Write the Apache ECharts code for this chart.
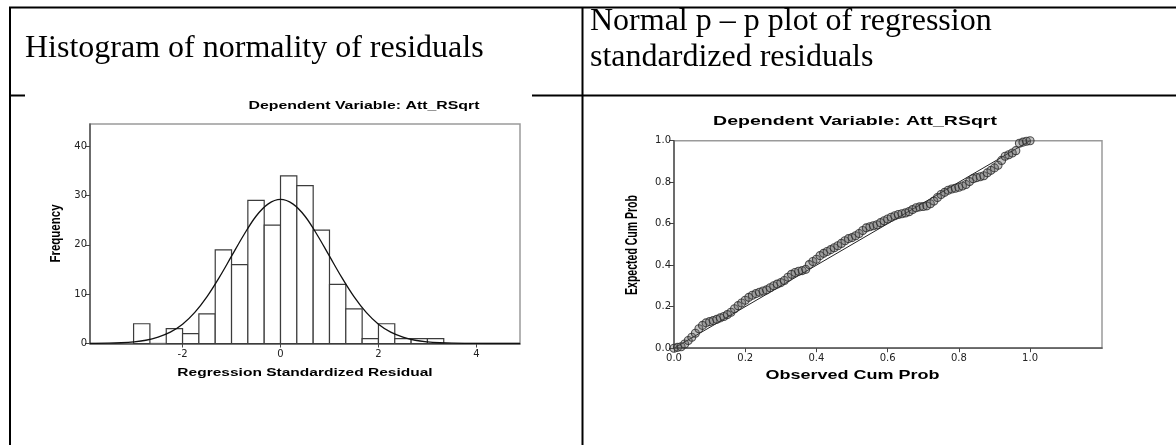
<!DOCTYPE html>
<html>
<head>
<meta charset="utf-8">
<script src="https://cdn.jsdelivr.net/npm/echarts@6/dist/echarts.min.js"></script>
<style>
html,body{margin:0;padding:0;background:#fff;}
#chart{width:1176px;height:445px;}
</style>
</head>
<body>
<div id="chart"></div>
<script>
// ---------- Data ----------
const headerLeft = 'Histogram of normality of residuals';
const headerRightLines = ['Normal p \u2013 p plot of regression', 'standardized residuals'];
const chartTitle = 'Dependent Variable: Att_RSqrt';

// Histogram: bin edges (width 1/3) and frequencies
const binEdges = [-3, -2.667, -2.333, -2, -1.667, -1.333, -1, -0.667, -0.333, 0, 0.333, 0.667, 1, 1.333, 1.667, 2, 2.333, 2.667, 3, 3.333];
const binCounts = [4, 0, 3, 2, 6, 19, 16, 29, 24, 34, 32, 23, 12, 7, 1, 4, 1, 1, 1];
const histXTicks = [-2, 0, 2, 4];
const histYTicks = [0, 10, 20, 30, 40];
// Fitted normal curve
const curveX = [-3.89, -3.5, -3.25, -3, -2.75, -2.5, -2.25, -2, -1.75, -1.5, -1.25, -1, -0.75, -0.5, -0.25, 0, 0.25, 0.5, 0.75, 1, 1.25, 1.5, 1.75, 2, 2.25, 2.5, 2.75, 3, 3.25, 3.5, 4, 4.5, 4.89];
const curveY = [0.02, 0.06, 0.15, 0.33, 0.66, 1.3, 2.3, 3.9, 6.3, 9.5, 13.4, 17.7, 22, 25.8, 28.3, 29.2, 28.3, 25.8, 22, 17.7, 13.4, 9.5, 6.3, 3.9, 2.3, 1.3, 0.66, 0.33, 0.15, 0.06, 0.01, 0, 0];

// P-P plot: observed vs expected cumulative probability
const ppObserved = [0.00,0.01,0.02,0.03,0.04,0.05,0.06,0.07,0.08,0.09,0.10,0.11,0.12,0.13,0.14,0.15,0.16,0.17,0.18,0.19,0.20,0.21,0.22,0.23,0.24,0.25,0.26,0.27,0.28,0.29,0.30,0.31,0.32,0.33,0.34,0.35,0.36,0.37,0.38,0.39,0.40,0.41,0.42,0.43,0.44,0.45,0.46,0.47,0.48,0.49,0.50,0.51,0.52,0.53,0.54,0.55,0.56,0.57,0.58,0.59,0.60,0.61,0.62,0.63,0.64,0.65,0.66,0.67,0.68,0.69,0.70,0.71,0.72,0.73,0.74,0.75,0.76,0.77,0.78,0.79,0.80,0.81,0.82,0.83,0.84,0.85,0.86,0.87,0.88,0.89,0.90,0.91,0.92,0.93,0.94,0.95,0.96,0.97,0.98,0.99,1.00];
const ppExpected = [0.000,0.004,0.007,0.020,0.037,0.053,0.072,0.094,0.110,0.122,0.128,0.133,0.139,0.146,0.153,0.162,0.173,0.190,0.205,0.218,0.231,0.245,0.255,0.263,0.270,0.276,0.281,0.291,0.301,0.309,0.316,0.326,0.342,0.356,0.365,0.371,0.374,0.380,0.403,0.418,0.429,0.446,0.457,0.466,0.475,0.484,0.494,0.505,0.518,0.528,0.533,0.542,0.553,0.567,0.580,0.585,0.590,0.595,0.605,0.614,0.623,0.631,0.638,0.644,0.648,0.652,0.658,0.668,0.677,0.681,0.683,0.686,0.696,0.709,0.726,0.741,0.751,0.761,0.767,0.771,0.776,0.782,0.789,0.803,0.817,0.822,0.826,0.831,0.845,0.857,0.869,0.882,0.905,0.925,0.932,0.941,0.952,0.988,0.993,0.997,1.000];
const ppXTicks = [0, 0.2, 0.4, 0.6, 0.8, 1.0];
const ppYTicks = [0, 0.2, 0.4, 0.6, 0.8, 1.0];
const refLine = [[0, 0], [1, 1]];

// ---------- Build ----------
const histBins = binCounts.map((c, i) => [binEdges[i], binEdges[i + 1], c]).filter(d => d[2] > 0);
const curveData = curveX.map((x, i) => [x, curveY[i]]);
const ppData = ppObserved.map((x, i) => [x, ppExpected[i]]);

const tickFont = { fontFamily: 'DejaVu Sans', fontSize: 10, color: '#222' };
const axisLineStyle = { color: '#555', width: 1.5 };

const chart = echarts.init(document.getElementById('chart'), null, { renderer: 'canvas' });

const line = (x1, y1, x2, y2, w) => ({
  type: 'line', shape: { x1, y1, x2, y2 }, style: { stroke: '#000', lineWidth: w || 2 }, z: 100
});
const txt = (text, x, y, font, opts, align) => Object.assign({
  type: 'text', x, y, z: 100,
  style: { text, font, fill: '#000', align: align || 'center', verticalAlign: 'middle' }
}, opts || {});
const serif = '32px "Liberation Serif"';

chart.setOption({
  animation: false,
  backgroundColor: '#fff',
  grid: [
    { left: 90, width: 430, top: 124, height: 219.5, show: true, borderColor: '#9a9a9a', borderWidth: 1.5, backgroundColor: '#fff' },
    { left: 674, width: 428, top: 140.7, height: 207.5, show: true, borderColor: '#9a9a9a', borderWidth: 1.5, backgroundColor: '#fff' }
  ],
  xAxis: [
    {
      gridIndex: 0, type: 'value', min: -3.89, max: 4.89,
      axisLine: { show: true, onZero: false, lineStyle: axisLineStyle },
      axisTick: { show: true, customValues: histXTicks, length: 4, lineStyle: { color: '#444' } },
      axisLabel: Object.assign({ customValues: histXTicks, margin: 6 }, tickFont),
      splitLine: { show: false }
    },
    {
      gridIndex: 1, type: 'value', min: 0, max: 1.202,
      axisLine: { show: true, onZero: false, lineStyle: axisLineStyle },
      axisTick: { show: true, customValues: ppXTicks, length: 4, lineStyle: { color: '#444' } },
      axisLabel: Object.assign({ customValues: ppXTicks, margin: 5, formatter: v => v.toFixed(1) }, tickFont),
      splitLine: { show: false }
    }
  ],
  yAxis: [
    {
      gridIndex: 0, type: 'value', min: 0, max: 44.5,
      axisLine: { show: true, onZero: false, lineStyle: axisLineStyle },
      axisTick: { show: true, customValues: histYTicks, length: 5, lineStyle: { color: '#444' } },
      axisLabel: Object.assign({ customValues: histYTicks, margin: 3 }, tickFont),
      splitLine: { show: false }
    },
    {
      gridIndex: 1, type: 'value', min: 0, max: 1, interval: 0.2,
      axisLine: { show: true, onZero: false, lineStyle: axisLineStyle },
      axisTick: { show: true, customValues: ppYTicks, length: 5, lineStyle: { color: '#444' } },
      axisLabel: Object.assign({ customValues: ppYTicks, margin: 3, formatter: v => v.toFixed(1) }, tickFont),
      splitLine: { show: false }
    }
  ],
  series: [
    {
      type: 'custom', xAxisIndex: 0, yAxisIndex: 0, data: histBins,
      renderItem: (params, api) => {
        const p0 = api.coord([api.value(0), api.value(2)]);
        const p1 = api.coord([api.value(1), 0]);
        return {
          type: 'rect',
          shape: { x: p0[0], y: p0[1], width: p1[0] - p0[0], height: p1[1] - p0[1] },
          style: { fill: '#fff', stroke: '#3c3c3c', lineWidth: 1.2 }
        };
      },
      z: 2
    },
    {
      type: 'line', xAxisIndex: 0, yAxisIndex: 0, data: curveData, smooth: 0.35,
      showSymbol: false, lineStyle: { color: '#111', width: 1.3 }, z: 3
    },
    {
      type: 'line', xAxisIndex: 1, yAxisIndex: 1, data: refLine,
      showSymbol: false, lineStyle: { color: '#222', width: 1 }, z: 2
    },
    {
      type: 'scatter', xAxisIndex: 1, yAxisIndex: 1, data: ppData,
      symbol: 'circle', symbolSize: 8,
      itemStyle: { color: 'rgba(90,90,90,0.45)', borderColor: '#2a2a2a', borderWidth: 1.1 }, z: 3
    }
  ],
  graphic: [
    // table rules
    line(9, 7.5, 1176, 7.5),
    line(10, 7, 10, 445),
    line(582.5, 7, 582.5, 445),
    line(9, 95.5, 25, 95.5),
    line(532, 95.5, 1176, 95.5),
    // header texts
    txt(headerLeft, 25, 49, serif, null, 'left'),
    txt(headerRightLines[0], 590, 21.5, serif, null, 'left'),
    txt(headerRightLines[1], 590, 58, serif, null, 'left'),
    // histogram titles
    txt(chartTitle, 364, 106, 'bold 11.5px "Liberation Sans"', { scaleX: 1.38 }),
    txt('Regression Standardized Residual', 305, 372.5, 'bold 11.5px "Liberation Sans"', { scaleX: 1.35 }),
    txt('Frequency', 56, 233.5, 'bold 11.5px "Liberation Sans"', { rotation: Math.PI / 2, scaleY: 1.3 }),
    // P-P titles
    txt(chartTitle, 855, 121.7, 'bold 13px "Liberation Sans"', { scaleX: 1.5 }),
    txt('Observed Cum Prob', 852.5, 375.3, 'bold 12px "Liberation Sans"', { scaleX: 1.5 }),
    txt('Expected Cum Prob', 632.5, 245, 'bold 10.5px "Liberation Sans"', { rotation: Math.PI / 2, scaleY: 1.5 })
  ]
});
</script>
</body>
</html>
